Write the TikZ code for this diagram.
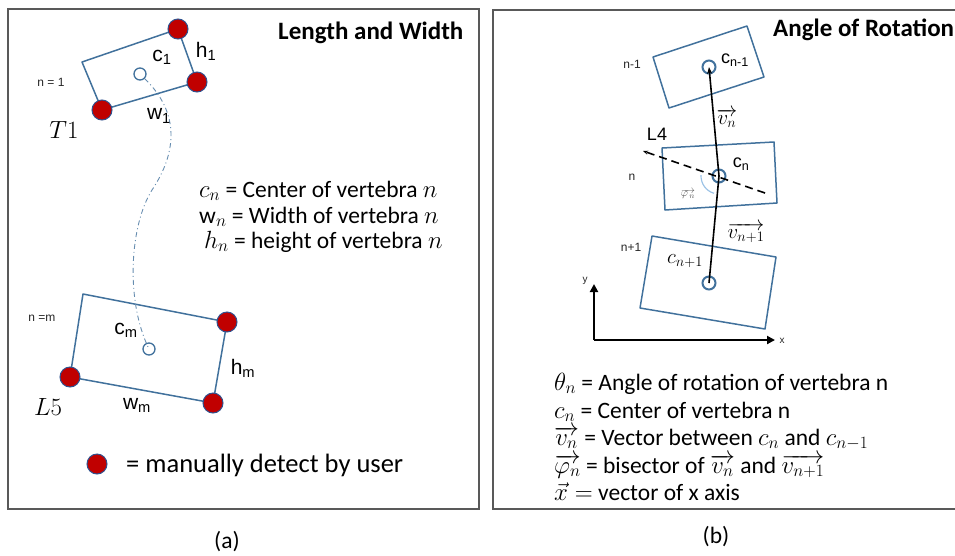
\documentclass[tikz,border=0pt]{standalone}
\usepackage{fontspec}
\setmainfont{Carlito}
\newfontfamily\arialfont{Liberation Sans}
\usetikzlibrary{arrows.meta}

\definecolor{vertBlue}{RGB}{65,113,156}
\definecolor{dotRed}{RGB}{192,0,0}
\definecolor{dotRim}{RGB}{47,82,143}
\definecolor{frameGray}{RGB}{89,89,89}
\definecolor{arcBlue}{RGB}{157,195,230}

\begin{document}
\begin{tikzpicture}[x=1pt, y=-1pt, font=\fontsize{23.5}{28}\selectfont]
        \tikzset{
            vertStroke/.style={draw=vertBlue, line width=1.5pt, line join=round},
            redDot/.style={circle, fill=dotRed, draw=dotRim, line width=1pt, minimum size=20pt, inner sep=0pt},
            centerMark/.style={circle, draw=vertBlue, line width=1.3pt, minimum size=12pt, inner sep=0pt},
            bigMark/.style={centerMark, line width=2pt, minimum size=13pt},
            frameBox/.style={draw=frameGray, line width=1.2pt},
            tinyLabel/.style={inner sep=0pt, font=\arialfont\fontsize{12}{14}\selectfont, text=black!85},
            sansLabel/.style={inner sep=0pt, font=\arialfont\fontsize{21}{24}\selectfont},
            sansSmall/.style={inner sep=0pt, font=\arialfont\fontsize{18}{21}\selectfont},
            mathLabel/.style={inner sep=0pt, font=\fontsize{22}{26}\selectfont},
            defText/.style={inner sep=0pt, anchor=base west, text height=16pt, text depth=5pt},
            titleText/.style={inner sep=0pt, anchor=base west, font=\fontsize{25}{30}\selectfont\bfseries},
            spineCurve/.style={draw=vertBlue!80, line width=0.9pt, dash pattern=on 5pt off 3pt on 1pt off 3pt},
            vecLine/.style={draw=black, line width=1.6pt, -{Stealth[length=7pt, width=5pt]}},
            bisector/.style={draw=black, line width=1.6pt, dash pattern=on 8pt off 5pt, -{Stealth[length=5pt, width=4pt]}},
            angleArc/.style={draw=arcBlue, line width=1.2pt},
            axisArrow/.style={draw=black, line width=2.6pt, -{Triangle[length=8pt, width=8pt]}}
        }

        \clip (0,0) rectangle (955,555);

        % panel frames
        \draw[frameBox] (8,9) rectangle (479,509);
        \draw[frameBox] (493,10) rectangle (985,509);

        % (a) length and width
        \coordinate (topA) at (82,62);
        \coordinate (topB) at (178,29);
        \coordinate (topC) at (197,82);
        \coordinate (topD) at (102,110);
        \coordinate (botA) at (83,294);
        \coordinate (botB) at (227,322);
        \coordinate (botC) at (213,403);
        \coordinate (botD) at (70,377);

        \draw[vertStroke] (topA) -- (topB) -- (topC) -- (topD) -- cycle;
        \draw[vertStroke] (botA) -- (botB) -- (botC) -- (botD) -- cycle;

        \node[centerMark] (cOne) at (140,74) {};
        \node[centerMark] (cLast) at (149,349) {};
        \coordinate (spineMid) at (152,190);
        \draw[spineCurve] (cOne) .. controls (185,118) and (172,160) .. (spineMid)
            .. controls (130,225) and (125,300) .. (cLast.center);

        \node[redDot] (dotTopB) at (topB) {};
        \node[redDot] (dotTopC) at (topC) {};
        \node[redDot] (dotTopD) at (topD) {};
        \node[redDot] (dotBotB) at (botB) {};
        \node[redDot] (dotBotC) at (botC) {};
        \node[redDot] (dotBotD) at (botD) {};

        \node[sansLabel] (cOneLabel) at (162,57) {c\textsubscript{1}};
        \node[sansLabel] (hOneLabel) at (206,51) {h\textsubscript{1}};
        \node[sansLabel] (wOneLabel) at (159,116) {w\textsubscript{1}};
        \node[tinyLabel] (nOneLabel) at (51,82) {n = 1};
        \node[mathLabel, font=\fontsize{27}{30}\selectfont] (tOneLabel) at (64,130) {$T1$};

        \node[sansLabel] (cLastLabel) at (126,330) {c\textsubscript{m}};
        \node[sansLabel] (hLastLabel) at (243,368) {h\textsubscript{m}};
        \node[sansLabel] (wLastLabel) at (137,405) {w\textsubscript{m}};
        \node[tinyLabel] (nLastLabel) at (42,318) {n =m};
        \node[mathLabel, font=\fontsize{27}{30}\selectfont] (lFiveLabel) at (48,407) {$L5$};

        \node[titleText] (titleA) at (278,39) {Length and Width};
        \node[defText] (defCa) at (199,197) {$c_n$ = Center of vertebra $n$};
        \node[defText] (defWa) at (199,223) {$\mathrm{w}_n$ = Width of vertebra $n$};
        \node[defText] (defHa) at (204,248) {$h_n$ = height of vertebra $n$};

        \node[redDot] (legendDot) at (97,464) {};
        \node[defText, font=\fontsize{26.5}{30}\selectfont] (legendText) at (126,472) {= manually detect by user};

        % (b) angle of rotation
        \coordinate (prevA) at (653,57);
        \coordinate (prevB) at (747,26);
        \coordinate (prevC) at (764,77);
        \coordinate (prevD) at (669,108);
        \coordinate (curA) at (662,148);
        \coordinate (curB) at (774,142);
        \coordinate (curC) at (777,203);
        \coordinate (curD) at (665,210);
        \coordinate (nextA) at (652,236);
        \coordinate (nextB) at (776,257);
        \coordinate (nextC) at (765,329);
        \coordinate (nextD) at (640,308);

        \draw[vertStroke] (prevA) -- (prevB) -- (prevC) -- (prevD) -- cycle;
        \draw[vertStroke] (curA) -- (curB) -- (curC) -- (curD) -- cycle;
        \draw[vertStroke] (nextA) -- (nextB) -- (nextC) -- (nextD) -- cycle;

        \node[bigMark] (cPrev) at (709,67) {};
        \node[bigMark] (cN) at (719,176) {};
        \node[bigMark] (cNext) at (709,283) {};

        \coordinate (bisStart) at (765,193);
        \coordinate (bisTip) at (643,151);
        \draw[bisector] (bisStart) -- (bisTip);
        \draw[angleArc] ([shift={(183:18)}]cN.center) arc[start angle=183, end angle=106, radius=18];
        \draw[vecLine] (cNext.center) -- (cN.center) -- (cPrev.center);

        \node[tinyLabel] (nPrevLabel) at (632,64) {n-1};
        \node[tinyLabel] (nCurLabel) at (632,177) {n};
        \node[tinyLabel] (nNextLabel) at (631,247) {n+1};
        \node[sansSmall] (cPrevLabel) at (735,60) {c\textsubscript{n-1}};
        \node[sansSmall] (cNLabel) at (741,164) {c\textsubscript{n}};
        \node[sansSmall] (lFourLabel) at (657,134) {L4};
        \node[mathLabel] (vNLabel) at (727,118) {$\overrightarrow{v_n}$};
        \node[mathLabel] (vNextLabel) at (746,233) {$\overrightarrow{v_{n+1}}$};
        \node[mathLabel] (cNextLabel) at (685,261) {$c_{n+1}$};
        \node[inner sep=0pt, font=\fontsize{11}{12}\selectfont, text=black!65] (phiLabel) at (688,194) {$\overrightarrow{\varphi_{\,n}}$};

        \coordinate (axOrigin) at (594,340);
        \node[tinyLabel, font=\arialfont\fontsize{10}{12}\selectfont] (yLabel) at (585,281) {y};
        \node[tinyLabel, font=\arialfont\fontsize{10}{12}\selectfont] (xLabel) at (782,341) {x};
        \draw[axisArrow] (axOrigin) -- (594,284);
        \draw[axisArrow] (axOrigin) -- (775,340);

        \node[titleText] (titleB) at (773,36) {Angle of Rotation};
        \node[defText] (defTheta) at (554,390) {$\theta_n$ = Angle of rotation of vertebra n};
        \node[defText] (defCb) at (554,418) {$c_n$ = Center of vertebra n};
        \node[defText] (defVec) at (554,445) {$\overrightarrow{v_n}$ = Vector between $c_n$ and $c_{n-1}$};
        \node[defText] (defBis) at (554,473) {$\overrightarrow{\varphi_n}$ = bisector of $\overrightarrow{v_n}$ and $\overrightarrow{v_{n+1}}$};
        \node[defText] (defAxis) at (554,500) {$\vec{x} =$ vector of x axis};

        \node (capA) at (227,542) {(a)};
        \node (capB) at (716,537) {(b)};
    \end{tikzpicture}
\end{document}
